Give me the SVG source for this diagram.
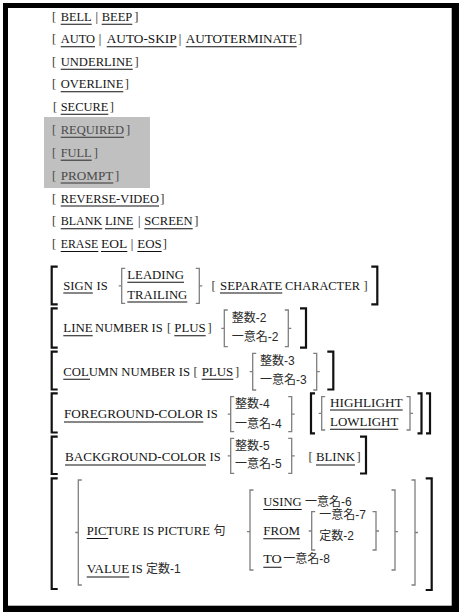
<svg xmlns="http://www.w3.org/2000/svg" width="459" height="612" viewBox="0 0 459 612">
<style>
.t{font-family:"Liberation Serif","Times New Roman",serif;font-size:12.5px;fill:#141414}
.b{font-family:"Liberation Serif","Times New Roman",serif;font-size:12.5px;fill:#3a3428}
.g{fill:#4a4a4a}
.c{font-family:"Liberation Sans","Noto Sans CJK JP",sans-serif;font-size:12px;fill:#2a2a2a}
.u{stroke:#111;stroke-width:1.1;fill:none}
.ug{stroke:#333;stroke-width:1.1;fill:none}
.k{stroke:#111;stroke-width:2.2;fill:none}
.r{stroke:#7f7f7f;stroke-width:1.3;fill:none}
</style>
<rect x="0" y="0" width="459" height="612" fill="#fff"/>
<rect x="3" y="3" width="456" height="609" fill="#000"/>
<rect x="8" y="8" width="443.7" height="597.7" fill="#fff"/>
<rect id="shade" x="44" y="117" width="106" height="71" fill="#c0c0c0"/>

<g id="bell">
<text class="b" x="52" y="20.7">[</text>
<text class="t" x="60.7" y="20.7" textLength="31" lengthAdjust="spacingAndGlyphs">BELL</text>
<text class="t" x="95.5" y="20.7">|</text>
<text class="t" x="101.7" y="20.7" textLength="30.6" lengthAdjust="spacingAndGlyphs">BEEP</text>
<text class="b" x="134.2" y="20.7">]</text>
<path class="u" d="M60.7 24.2H91.7M101.7 24.2H132.3"/>
</g>
<g id="auto">
<text class="b" x="52" y="43.3">[</text>
<text class="t" x="60.7" y="43.3" textLength="34.3" lengthAdjust="spacingAndGlyphs">AUTO</text>
<text class="t" x="98.8" y="43.3">|</text>
<text class="t" x="106.7" y="43.3" textLength="70" lengthAdjust="spacingAndGlyphs">AUTO-SKIP</text>
<text class="t" x="178.8" y="43.3">|</text>
<text class="t" x="185.7" y="43.3" textLength="111" lengthAdjust="spacingAndGlyphs">AUTOTERMINATE</text>
<text class="b" x="298" y="43.3">]</text>
<path class="u" d="M60.7 46.8H95M106.7 46.8H176.7M185.7 46.8H296.7"/>
</g>
<g id="underline">
<text class="b" x="52" y="65.7">[</text>
<text class="t" x="60.7" y="65.7" textLength="72" lengthAdjust="spacingAndGlyphs">UNDERLINE</text>
<text class="b" x="134.5" y="65.7">]</text>
<path class="u" d="M60.7 69.2H132.7"/>
</g>
<g id="overline">
<text class="b" x="52" y="88.3">[</text>
<text class="t" x="60.7" y="88.3" textLength="62.6" lengthAdjust="spacingAndGlyphs">OVERLINE</text>
<text class="b" x="124.7" y="88.3">]</text>
<path class="u" d="M60.7 91.8H123.3"/>
</g>
<g id="secure">
<text class="b" x="53" y="110.7">[</text>
<text class="t" x="60.7" y="110.7" textLength="47.6" lengthAdjust="spacingAndGlyphs">SECURE</text>
<text class="b" x="109.7" y="110.7">]</text>
<path class="u" d="M60.7 114.2H108.3"/>
</g>
<g id="required">
<text class="t g" x="52" y="133.7">[</text>
<text class="t g" x="60.7" y="133.7" textLength="63.3" lengthAdjust="spacingAndGlyphs">REQUIRED</text>
<text class="t g" x="126" y="133.7">]</text>
<path class="ug" d="M60.7 137.2H124"/>
</g>
<g id="full">
<text class="t g" x="52" y="156.7">[</text>
<text class="t g" x="60.7" y="156.7" textLength="31" lengthAdjust="spacingAndGlyphs">FULL</text>
<text class="t g" x="93.8" y="156.7">]</text>
<path class="ug" d="M60.7 160.2H91.7"/>
</g>
<g id="prompt">
<text class="t g" x="52" y="179.5">[</text>
<text class="t g" x="60.7" y="179.5" textLength="52.6" lengthAdjust="spacingAndGlyphs">PROMPT</text>
<text class="t g" x="115" y="179.5">]</text>
<path class="ug" d="M60.7 183H113.3"/>
</g>
<g id="reverse">
<text class="b" x="52" y="202.5">[</text>
<text class="t" x="60.7" y="202.5" textLength="98.3" lengthAdjust="spacingAndGlyphs">REVERSE-VIDEO</text>
<text class="b" x="160.3" y="202.5">]</text>
<path class="u" d="M60.7 206H159"/>
</g>
<g id="blank">
<text class="b" x="52" y="225.2">[</text>
<text class="t" x="60.7" y="225.2" textLength="41.6" lengthAdjust="spacingAndGlyphs">BLANK</text>
<text class="t" x="105" y="225.2" textLength="28.3" lengthAdjust="spacingAndGlyphs">LINE</text>
<text class="t" x="138.1" y="225.2">|</text>
<text class="t" x="144.3" y="225.2" textLength="48.4" lengthAdjust="spacingAndGlyphs">SCREEN</text>
<text class="b" x="194.3" y="225.2">]</text>
<path class="u" d="M60.7 228.7H102.3M105 228.7H133.3M144.3 228.7H192.7"/>
</g>
<g id="erase">
<text class="b" x="52" y="248">[</text>
<text class="t" x="60.7" y="248" textLength="37.6" lengthAdjust="spacingAndGlyphs">ERASE</text>
<text class="t" x="101" y="248" textLength="26.3" lengthAdjust="spacingAndGlyphs">EOL</text>
<text class="t" x="130.8" y="248">|</text>
<text class="t" x="137.3" y="248" textLength="24.4" lengthAdjust="spacingAndGlyphs">EOS</text>
<text class="b" x="162.8" y="248">]</text>
<path class="u" d="M60.7 251.5H98.3M101 251.5H127.3M137.3 251.5H161.7"/>
</g>

<g id="sign">
<path class="k" d="M57.7 266.7H51.7V304.3H57.7M371.3 266.7H377.3V304.3H371.3"/>
<path class="r" d="M125.2 268.3H121.7V303.3H125.2M121.7 285.8H118.7M195.8 268.3H199.3V303.3H195.8M199.3 285.8H202.3"/>
<text class="t" x="63.3" y="289.5" textLength="29.5" lengthAdjust="spacingAndGlyphs">SIGN</text>
<text class="t" x="96.5" y="289.5">IS</text>
<text class="t" x="127.3" y="279" textLength="56.7" lengthAdjust="spacingAndGlyphs">LEADING</text>
<text class="t" x="127.3" y="298.5" textLength="60" lengthAdjust="spacingAndGlyphs">TRAILING</text>
<text class="b" x="211.4" y="289.5">[</text>
<text class="t" x="220" y="289.5" textLength="62.3" lengthAdjust="spacingAndGlyphs">SEPARATE</text>
<text class="t" x="285" y="289.5" textLength="75" lengthAdjust="spacingAndGlyphs">CHARACTER</text>
<text class="b" x="363.5" y="289.5">]</text>
<path class="u" d="M63.3 293H92.8M127.3 282.3H184M127.3 302H187.3M220 293H282.3"/>
</g>

<g id="line-number">
<path class="k" d="M57.7 308.3H51.7V347.7H57.7M300 308.3H306V347.7H300"/>
<path class="r" d="M227.8 310H224.3V346.7H227.8M224.3 328.4H221.3M284.8 310H288.3V346.7H284.8M288.3 328.4H291.3"/>
<text class="t" x="63.3" y="332.3" textLength="29.4" lengthAdjust="spacingAndGlyphs">LINE</text>
<text class="t" x="95" y="332.3" textLength="67.7" lengthAdjust="spacingAndGlyphs">NUMBER IS</text>
<text class="b" x="167" y="332.3">[</text>
<text class="t" x="174.3" y="332.3" textLength="31.4" lengthAdjust="spacingAndGlyphs">PLUS</text>
<text class="b" x="207.5" y="332.3">]</text>
<text class="c" x="231.7" y="321.7">整数-2</text>
<text class="c" x="231.7" y="341">一意名-2</text>
<path class="u" d="M63.3 335.8H92.7M174.3 335.8H205.7"/>
</g>

<g id="column-number">
<path class="k" d="M57.7 351.7H51.7V389.5H57.7M327.3 351.7H333.3V389.5H327.3"/>
<path class="r" d="M256.2 353.3H252.7V390H256.2M252.7 371.7H249.7M313.2 353.3H316.7V390H313.2M316.7 371.7H319.7"/>
<text class="t" x="63.3" y="375.7" textLength="126.7" lengthAdjust="spacingAndGlyphs">COLUMN NUMBER IS</text>
<text class="b" x="193.5" y="375.7">[</text>
<text class="t" x="201.7" y="375.7" textLength="31.6" lengthAdjust="spacingAndGlyphs">PLUS</text>
<text class="b" x="235" y="375.7">]</text>
<text class="c" x="260" y="365">整数-3</text>
<text class="c" x="260" y="384.3">一意名-3</text>
<path class="u" d="M63.3 379.3H90M201.7 379.3H233.3"/>
</g>

<g id="foreground">
<path class="k" d="M57.7 393.3H51.7V432.5H57.7M315 393.3H311V433.3H315M417.5 393.3H421.5V433.3H417.5M426 393.3H430V433.3H426"/>
<path class="r" d="M234.2 396.7H230.7V431.7H234.2M230.7 414.2H227.7M288.2 396.7H291.7V431.7H288.2M291.7 414.2H294.7M325.2 396.7H321.7V430H325.2M321.7 413.4H318.7M406.5 396.7H410V430H406.5M410 413.4H413"/>
<text class="t" x="64" y="418.3" textLength="139.3" lengthAdjust="spacingAndGlyphs">FOREGROUND-COLOR</text>
<text class="t" x="206.5" y="418.3">IS</text>
<text class="c" x="235" y="408.3">整数-4</text>
<text class="c" x="235" y="428.3">一意名-4</text>
<text class="t" x="330" y="406.7" textLength="72.7" lengthAdjust="spacingAndGlyphs">HIGHLIGHT</text>
<text class="t" x="330" y="425.7" textLength="68.3" lengthAdjust="spacingAndGlyphs">LOWLIGHT</text>
<path class="u" d="M64 422H203.3M330 410H402.7M330 429.3H398.3"/>
</g>

<g id="background">
<path class="k" d="M57.7 436.7H51.7V474H57.7M360 436.7H366V473.5H360"/>
<path class="r" d="M234.2 438.3H230.7V473.3H234.2M230.7 455.8H227.7M288.2 438.3H291.7V473.3H288.2M291.7 455.8H294.7"/>
<text class="t" x="65" y="461" textLength="141" lengthAdjust="spacingAndGlyphs">BACKGROUND-COLOR</text>
<text class="t" x="209.5" y="461">IS</text>
<text class="c" x="235" y="450">整数-5</text>
<text class="c" x="235" y="468.3">一意名-5</text>
<text class="b" x="308.5" y="461">[</text>
<text class="t" x="316" y="461" textLength="39" lengthAdjust="spacingAndGlyphs">BLINK</text>
<text class="b" x="356.5" y="461">]</text>
<path class="u" d="M65 465H206M316 465H355"/>
</g>

<g id="picture">
<path class="k" d="M57.7 478.3H51.7V589H57.7M425.7 478.3H431.7V590H425.7"/>
<path class="r" d="M81.8 480H78.3V585H81.8M78.3 532.5H75.3M411.5 480H415V585H411.5M415 532.5H418"/>
<path class="r" d="M253.5 490H250V570H253.5M250 531.7H247M391.5 490H395V570H391.5M395 531.7H398"/>
<path class="r" d="M315.2 511.7H311.7V550H315.2M311.7 531H308.7M372.5 511.7H376V550H372.5M376 531H379"/>
<text class="t" x="86.7" y="535" textLength="123.3" lengthAdjust="spacingAndGlyphs">PICTURE IS PICTURE</text>
<text class="c" x="213.5" y="535">句</text>
<text class="t" x="86.7" y="573.3" textLength="42.6" lengthAdjust="spacingAndGlyphs">VALUE</text>
<text class="t" x="131.5" y="573.3">IS</text>
<text class="c" x="146" y="573.3">定数-1</text>
<text class="t" x="263.3" y="506" textLength="38.4" lengthAdjust="spacingAndGlyphs">USING</text>
<text class="c" x="305" y="506">一意名-6</text>
<text class="t" x="263.3" y="535" textLength="36.7" lengthAdjust="spacingAndGlyphs">FROM</text>
<text class="c" x="319.3" y="519.3">一意名-7</text>
<text class="c" x="319.3" y="540">定数-2</text>
<text class="t" x="263.3" y="563.3" textLength="18.4" lengthAdjust="spacingAndGlyphs">TO</text>
<text class="c" x="283.3" y="563.3">一意名-8</text>
<path class="u" d="M86.7 538.5H108.3M86.7 577H129.3M263.3 509.5H301.7M263.3 538.8H300M263.3 567.3H281.7"/>
</g>
</svg>
